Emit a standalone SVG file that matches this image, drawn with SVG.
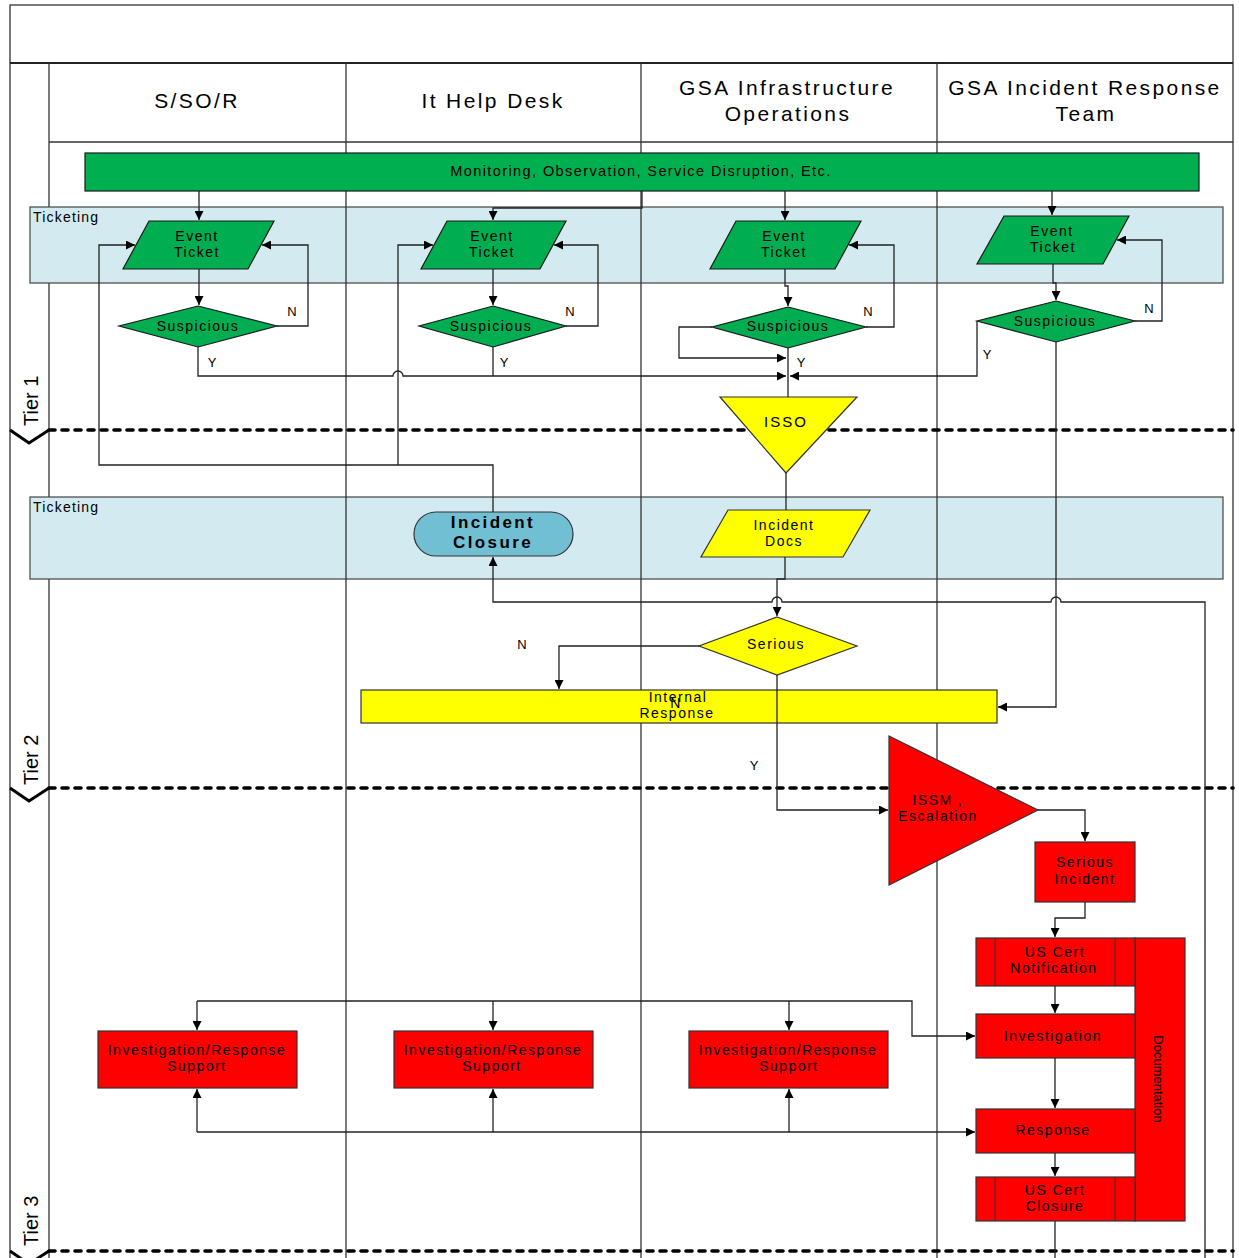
<svg xmlns="http://www.w3.org/2000/svg" width="1239" height="1258" viewBox="0 0 1239 1258">
<style>
text{font-family:"Liberation Sans",Arial,sans-serif;fill:#000}
.hd{font-size:21px;letter-spacing:2.4px;text-anchor:middle}
.t{font-size:14px;letter-spacing:1.5px;text-anchor:middle}
.lb{font-size:14px;letter-spacing:1.2px}
.yn{font-size:13px;text-anchor:middle}
.tier{font-size:20px}
.frame{fill:none;stroke:#333;stroke-width:1.3}
.lane{stroke:#333;stroke-width:1.3;fill:none}
.band{fill:#D3EAF0;stroke:#444;stroke-width:1.2}
.g{fill:#00AD50;stroke:#1a1a1a;stroke-width:1.2}
.y{fill:#FFFF00;stroke:#333;stroke-width:1.2}
.r{fill:#FF0000;stroke:#333;stroke-width:1.2}
.c{fill:none;stroke:#222;stroke-width:1.3}
.ca{fill:none;stroke:#222;stroke-width:1.3;marker-end:url(#arr)}
.dash{stroke:#000;stroke-width:3.6;stroke-dasharray:6 7;stroke-linecap:round;fill:none}
.chev{stroke:#000;stroke-width:3;fill:none}
</style>
<defs>
<marker id="arr" viewBox="0 0 10 10" refX="10" refY="5" markerWidth="10" markerHeight="9" markerUnits="userSpaceOnUse" orient="auto">
<path d="M0,0 L10,5 L0,10 z" fill="#000"/>
</marker>
</defs>
<rect x="0" y="0" width="1239" height="1258" fill="#fff"/>

<g id="frame">
<rect x="10" y="5" width="1223" height="1260" class="frame"/>
<line x1="10" y1="63" x2="1233" y2="63" stroke="#222" stroke-width="2.2"/>
<line x1="49" y1="63" x2="49" y2="1258" class="lane"/>
</g>

<g id="bands">
<rect x="30" y="207" width="1193" height="76" class="band"/>
<rect x="30" y="497" width="1193" height="82" class="band"/>
<text x="33" y="222" class="lb">Ticketing</text>
<text x="33" y="512" class="lb">Ticketing</text>
</g>

<g id="lanes">
<line x1="49" y1="142" x2="1233" y2="142" class="lane"/>
<line x1="346" y1="63" x2="346" y2="1258" class="lane"/>
<line x1="641" y1="63" x2="641" y2="1258" class="lane"/>
<line x1="937" y1="63" x2="937" y2="1258" class="lane"/>
<text x="197" y="108" class="hd">S/SO/R</text>
<text x="493" y="108" class="hd">It Help Desk</text>
<text x="787" y="95" class="hd">GSA Infrastructure</text>
<text x="788" y="121" class="hd">Operations</text>
<text x="1085" y="95" class="hd">GSA Incident Response</text>
<text x="1086" y="121" class="hd">Team</text>
</g>

<g id="tiers">
<line x1="49" y1="430" x2="1233" y2="430" class="dash"/>
<line x1="49" y1="788" x2="1233" y2="788" class="dash"/>
<line x1="49" y1="1251" x2="1233" y2="1251" class="dash"/>
<polyline points="10,430 29,443 49,430" class="chev"/>
<polyline points="10,788 29,801 49,788" class="chev"/>
<polyline points="10,1251 29,1264 49,1251" class="chev"/>
<text transform="translate(38,426) rotate(-90)" class="tier">Tier 1</text>
<text transform="translate(38,785) rotate(-90)" class="tier">Tier 2</text>
<text transform="translate(38,1246) rotate(-90)" class="tier">Tier 3</text>
</g>

<g id="monitoring">
<rect x="85" y="153" width="1114" height="38" fill="#00B050" stroke="#1a1a1a" stroke-width="1.2"/>
<text x="641" y="176" class="t" style="font-size:14.5px;letter-spacing:1.4px">Monitoring, Observation, Service Disruption, Etc.</text>
</g>

<g id="event-ticket-1"><polygon points="149,221 274,221 248,269 123,269" class="g"/><text x="197" y="241" class="t">Event</text><text x="197" y="257" class="t">Ticket</text></g>
<g id="event-ticket-2"><polygon points="447,221 566,221 540,269 421,269" class="g"/><text x="492" y="241" class="t">Event</text><text x="492" y="257" class="t">Ticket</text></g>
<g id="event-ticket-3"><polygon points="736,221 861,221 835,269 710,269" class="g"/><text x="784" y="241" class="t">Event</text><text x="784" y="257" class="t">Ticket</text></g>
<g id="event-ticket-4"><polygon points="1004,216 1129,216 1103,264 977,264" class="g"/><text x="1052" y="236" class="t">Event</text><text x="1053" y="252" class="t">Ticket</text></g>

<g id="suspicious-1"><polygon points="198,306 277,326 198,347 119,326" class="g"/><text x="198" y="331" class="t">Suspicious</text></g>
<g id="suspicious-2"><polygon points="493,306 566,326 493,347 419,326" class="g"/><text x="491" y="331" class="t">Suspicious</text></g>
<g id="suspicious-3"><polygon points="788,307 866,327 788,348 712,327" class="g"/><text x="788" y="331" class="t">Suspicious</text></g>
<g id="suspicious-4"><polygon points="1056,301 1135,321 1056,342 977,321" class="g"/><text x="1055" y="326" class="t">Suspicious</text></g>

<g id="isso"><polygon points="720,397 857,397 786,473" class="y"/><text x="786" y="427" class="t" style="font-size:15px;letter-spacing:2px">ISSO</text></g>

<g id="incident-closure"><rect x="414" y="512" width="159" height="44" rx="22" ry="22" fill="#71BFD3" stroke="#333" stroke-width="1.2"/><text x="493" y="528" class="t" style="font-size:17px;font-weight:bold;letter-spacing:2.4px">Incident</text><text x="493" y="548" class="t" style="font-size:17px;font-weight:bold;letter-spacing:2.4px">Closure</text></g>

<g id="incident-docs"><polygon points="728,510 870,510 843,557 701,557" class="y"/><text x="784" y="530" class="t">Incident</text><text x="784" y="546" class="t">Docs</text></g>

<g id="serious"><polygon points="777,617 857,646 777,675 699,646" class="y"/><text x="776" y="649" class="t">Serious</text></g>

<g id="internal-response"><rect x="361" y="690" width="636" height="33" class="y"/><text x="678" y="702" class="t">Internal</text><text x="677" y="718" class="t">Response</text><text x="676" y="708" class="t">N</text></g>

<g id="issm"><polygon points="889,736 1038,810 889,885" class="r"/><text x="938" y="805" class="t">ISSM ,</text><text x="938" y="821" class="t">Escalation</text></g>

<g id="serious-incident"><rect x="1035" y="842" width="100" height="60" class="r"/><text x="1085" y="867" class="t">Serious</text><text x="1085" y="884" class="t">Incident</text></g>

<g id="documentation"><rect x="1135" y="938" width="50" height="283" class="r"/><text transform="translate(1154,1079) rotate(90)" style="font-size:13px;text-anchor:middle">Documentation</text></g>

<g id="us-cert-notification"><rect x="976" y="938" width="159" height="48" class="r"/><line x1="995" y1="938" x2="995" y2="986" stroke="#333"/><line x1="1115" y1="938" x2="1115" y2="986" stroke="#333"/><text x="1055" y="957" class="t">US Cert</text><text x="1054" y="973" class="t">Notification</text></g>

<g id="investigation"><rect x="976" y="1014" width="159" height="44" class="r"/><text x="1053" y="1041" class="t">Investigation</text></g>

<g id="response"><rect x="976" y="1109" width="159" height="44" class="r"/><text x="1053" y="1135" class="t">Response</text></g>

<g id="us-cert-closure"><rect x="976" y="1177" width="159" height="44" class="r"/><line x1="995" y1="1177" x2="995" y2="1221" stroke="#333"/><line x1="1115" y1="1177" x2="1115" y2="1221" stroke="#333"/><text x="1055" y="1195" class="t">US Cert</text><text x="1055" y="1211" class="t">Closure</text></g>

<g id="irs-1"><rect x="98" y="1031" width="199" height="57" class="r"/><text x="197" y="1055" class="t">Investigation/Response</text><text x="197" y="1071" class="t">Support</text></g>
<g id="irs-2"><rect x="394" y="1031" width="199" height="57" class="r"/><text x="493" y="1055" class="t">Investigation/Response</text><text x="492" y="1071" class="t">Support</text></g>
<g id="irs-3"><rect x="689" y="1031" width="199" height="57" class="r"/><text x="788" y="1055" class="t">Investigation/Response</text><text x="789" y="1071" class="t">Support</text></g>

<g id="connectors">
<path d="M199,191 V220" class="ca"/>
<path d="M642,191 V208 H493 V220" class="ca"/>
<path d="M785,191 V220" class="ca"/>
<path d="M1052,191 V215" class="ca"/>
<path d="M199,269 V305" class="ca"/>
<path d="M493,269 V305" class="ca"/>
<path d="M785,269 V286 H788 V306" class="ca"/>
<path d="M1053,264 V283 H1056 V300" class="ca"/>
<path d="M277,326 H308 V245 H262" class="ca"/>
<path d="M566,326 H598 V245 H554" class="ca"/>
<path d="M866,327 H894 V245 H849" class="ca"/>
<path d="M1135,321 H1162 V240 H1117" class="ca"/>
<path d="M198,347 V376 H393 A5,5 0 0 1 403,376 H786" class="ca"/>
<path d="M493,347 V376" class="c"/>
<path d="M712,327 H679 V358 H786" class="ca"/>
<path d="M977,321 V376 H790" class="ca"/>
<path d="M788,348 V397" class="c"/>
<path d="M493,512 V465 H99 V245 H135" class="ca"/>
<path d="M398,465 V245 H433" class="ca"/>
<path d="M786,473 V510" class="c"/>
<path d="M785,557 V579 H777 V616" class="ca"/>
<path d="M1205,1258 V602 H1061 A5,5 0 0 0 1051,602 H782 A5,5 0 0 0 772,602 H493 V557" class="ca"/>
<path d="M1056,342 V707 H998" class="ca"/>
<path d="M699,646 H559 V689" class="ca"/>
<path d="M777,675 V810 H888" class="ca"/>
<path d="M1038,810 H1085 V841" class="ca"/>
<path d="M1085,902 V918 H1055 V937" class="ca"/>
<path d="M1055,986 V1013" class="ca"/>
<path d="M1055,1058 V1108" class="ca"/>
<path d="M1055,1153 V1176" class="ca"/>
<path d="M1055,1221 V1258" class="c"/>
<path d="M197,1001 H912 V1036 H975" class="ca"/>
<path d="M197,1001 V1030" class="ca"/>
<path d="M493,1001 V1030" class="ca"/>
<path d="M789,1001 V1030" class="ca"/>
<path d="M197,1132 H975" class="ca"/>
<path d="M197,1132 V1089" class="ca"/>
<path d="M493,1132 V1089" class="ca"/>
<path d="M789,1132 V1089" class="ca"/>
<text x="292" y="316" class="yn">N</text>
<text x="570" y="316" class="yn">N</text>
<text x="868" y="316" class="yn">N</text>
<text x="1149" y="313" class="yn">N</text>
<text x="212" y="367" class="yn">Y</text>
<text x="504" y="367" class="yn">Y</text>
<text x="801" y="367" class="yn">Y</text>
<text x="987" y="359" class="yn">Y</text>
<text x="522" y="649" class="yn">N</text>
<text x="754" y="770" class="yn">Y</text>
</g>
</svg>
